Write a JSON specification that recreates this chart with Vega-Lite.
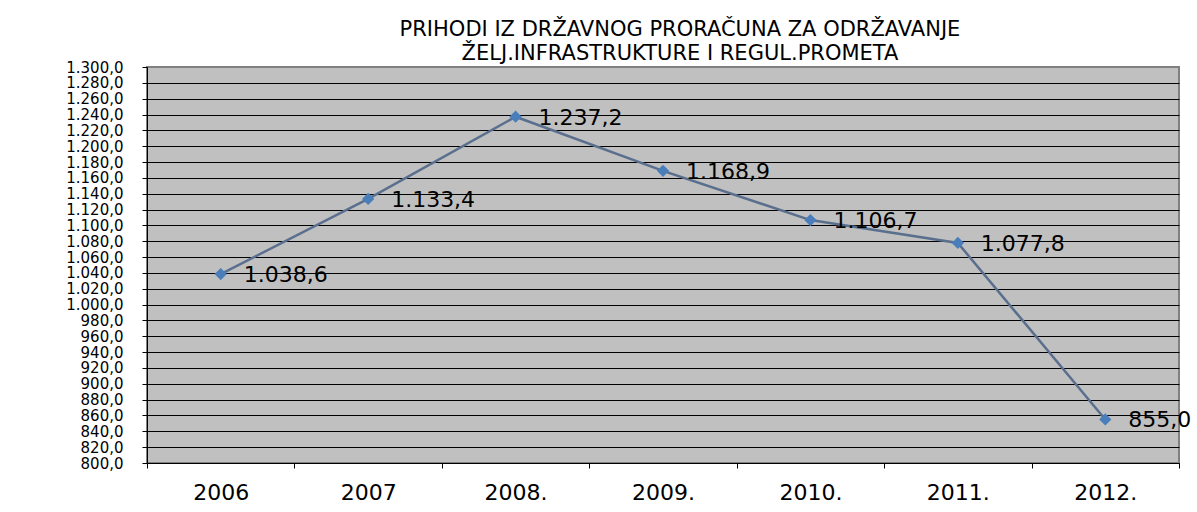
{
  "$schema": "https://vega.github.io/schema/vega-lite/v6.json",
  "autosize": {"type": "none"},
  "width": 1032,
  "height": 396,
  "padding": {"left": 147, "top": 67, "right": 18, "bottom": 49},
  "background": "white",
  "title": {
    "text": ["PRIHODI IZ DRŽAVNOG PRORAČUNA ZA ODRŽAVANJE", "ŽELJ.INFRASTRUKTURE I REGUL.PROMETA"],
    "font": "DejaVu Sans",
    "fontSize": 21,
    "fontWeight": "normal",
    "color": "black",
    "lineHeight": 24,
    "anchor": "middle",
    "dx": 17,
    "offset": -4
  },
  "data": {
    "values": [
      {"year": "2006", "value": 1038.6},
      {"year": "2007", "value": 1133.4},
      {"year": "2008.", "value": 1237.2},
      {"year": "2009.", "value": 1168.9},
      {"year": "2010.", "value": 1106.7},
      {"year": "2011.", "value": 1077.8},
      {"year": "2012.", "value": 855.0}
    ]
  },
  "encoding": {
    "x": {
      "field": "year", "type": "ordinal", "sort": null,
      "scale": {"paddingInner": 0, "paddingOuter": 0},
      "axis": {
        "title": null, "labelAngle": 0, "tickBand": "extent",
        "labelFont": "DejaVu Sans", "labelFontSize": 22, "labelColor": "black",
        "domainColor": "black", "domainWidth": 1, "tickColor": "black", "tickSize": 5,
        "labelPadding": 14, "grid": false
      }
    },
    "y": {
      "field": "value", "type": "quantitative",
      "scale": {"domain": [800, 1300], "nice": false, "zero": false},
      "axis": {
        "title": null,
        "values": [800, 820, 840, 860, 880, 900, 920, 940, 960, 980, 1000, 1020, 1040, 1060, 1080, 1100, 1120, 1140, 1160, 1180, 1200, 1220, 1240, 1260, 1280, 1300],
        "format": ",.1f",
        "labelFont": "DejaVu Sans", "labelFontSize": 15, "labelColor": "black",
        "labelOverlap": false, "labelFlush": false,
        "domainColor": "black", "domainWidth": 1, "tickColor": "black", "tickSize": 5,
        "labelPadding": 19,
        "grid": true,
        "gridColor": {"condition": {"test": "datum.value == 1300", "value": "#808080"}, "value": "black"},
        "gridWidth": 1, "gridOpacity": 1
      }
    }
  },
  "layer": [
    {"mark": {"type": "line", "color": "#5a6f8e", "strokeWidth": 2.5}},
    {"mark": {"type": "point", "shape": "diamond", "filled": true, "color": "#4a7ebb", "size": 150, "opacity": 1}},
    {
      "mark": {"type": "text", "align": "left", "baseline": "middle", "dx": 23, "dy": 1, "font": "DejaVu Sans", "fontSize": 22, "color": "black", "clip": false},
      "encoding": {"text": {"field": "value", "type": "quantitative", "format": ",.1f"}}
    }
  ],
  "config": {
    "locale": {"number": {"decimal": ",", "thousands": ".", "grouping": [3], "currency": ["", ""]}},
    "view": {"fill": "#c0c0c0", "stroke": "#808080", "strokeWidth": 2}
  }
}
